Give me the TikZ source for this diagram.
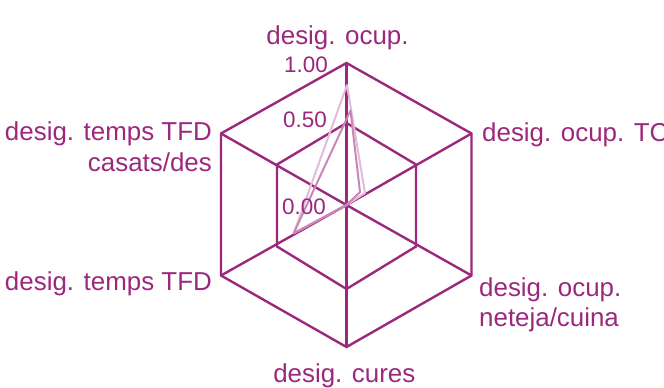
\documentclass[tikz,border=0pt]{standalone}
\usepackage{fontspec}
\setmainfont{Liberation Sans}
\definecolor{grid}{RGB}{155,40,125}
\definecolor{serA}{RGB}{226,188,216}
\definecolor{serB}{RGB}{200,135,182}
\tikzset{
  gridline/.style={draw=grid, line width=2.4bp, line join=miter},
  dataA/.style={draw=serA, line width=2bp, line join=round},
  dataB/.style={draw=serB, line width=2bp, line join=round},
  axislabel/.style={text=grid, inner sep=0pt, font=\fontsize{26}{30}\selectfont},
  ticklabel/.style={text=grid, inner sep=0pt, font=\fontsize{22.5}{26}\selectfont},
}
\begin{document}
\begin{tikzpicture}[x=1bp,y=-1bp]
\useasboundingbox (0,0) rectangle (664,387);
% centre
\coordinate (O) at (346.5,205);
% outer ring
\coordinate (T) at (346.5,63);
\coordinate (UR) at (471.5,133.5);
\coordinate (LR) at (471.5,275.5);
\coordinate (B) at (346.5,347);
\coordinate (LL) at (221,275.5);
\coordinate (UL) at (221,133.5);
% inner ring
\coordinate (t) at (346.5,123);
\coordinate (ur) at (416,164.5);
\coordinate (lr) at (416,246.5);
\coordinate (b) at (346.5,289);
\coordinate (ll) at (277,246.5);
\coordinate (ul) at (277,164.5);
% grid
\draw[gridline] (T) -- (UR) -- (LR) -- (B) -- (LL) -- (UL) -- cycle;
\draw[gridline] (t) -- (ur) -- (lr) -- (b) -- (ll) -- (ul) -- cycle;
\draw[gridline] (O) -- (T);
\draw[gridline] (O) -- (UR);
\draw[gridline] (O) -- (LR);
\draw[gridline] (O) -- (B);
\draw[gridline] (O) -- (LL);
\draw[gridline] (O) -- (UL);
% data series
\coordinate (a1) at (347,85);
\coordinate (a2) at (365,193);
\coordinate (a5) at (293.7,233.3);
\coordinate (b1) at (350.5,110.5);
\coordinate (b2) at (360,192);
\coordinate (b5) at (293.7,233.3);
\draw[dataA] (a1) -- (a2) -- (O) -- (a5) -- cycle;
\draw[dataB] (b1) -- (b2) -- (O) -- (b5) -- cycle;
% tick labels
\node[ticklabel, anchor=east] (v100) at (328,65) {1.00};
\node[ticklabel, anchor=east] (v050) at (327,120) {0.50};
\node[ticklabel, anchor=east] (v000) at (326,207) {0.00};
% axis labels
\node[axislabel, anchor=base] (lT) at (337.5,44.5) {desig. ocup.};
\node[axislabel, anchor=base west] (lUR) at (482,141.7) {desig. ocup. TC};
\node[axislabel, anchor=base west] (lLRa) at (479,296.7) {desig. ocup.};
\node[axislabel, anchor=base west] (lLRb) at (479,326.7) {neteja/cuina};
\node[axislabel, anchor=base] (lB) at (344.3,382.7) {desig. cures};
\node[axislabel, anchor=base east] (lLL) at (212,290) {desig. temps TFD};
\node[axislabel, anchor=base east] (lULa) at (212,140.7) {desig. temps TFD};
\node[axislabel, anchor=base east] (lULb) at (212,171.7) {casats/des};
\end{tikzpicture}
\end{document}
